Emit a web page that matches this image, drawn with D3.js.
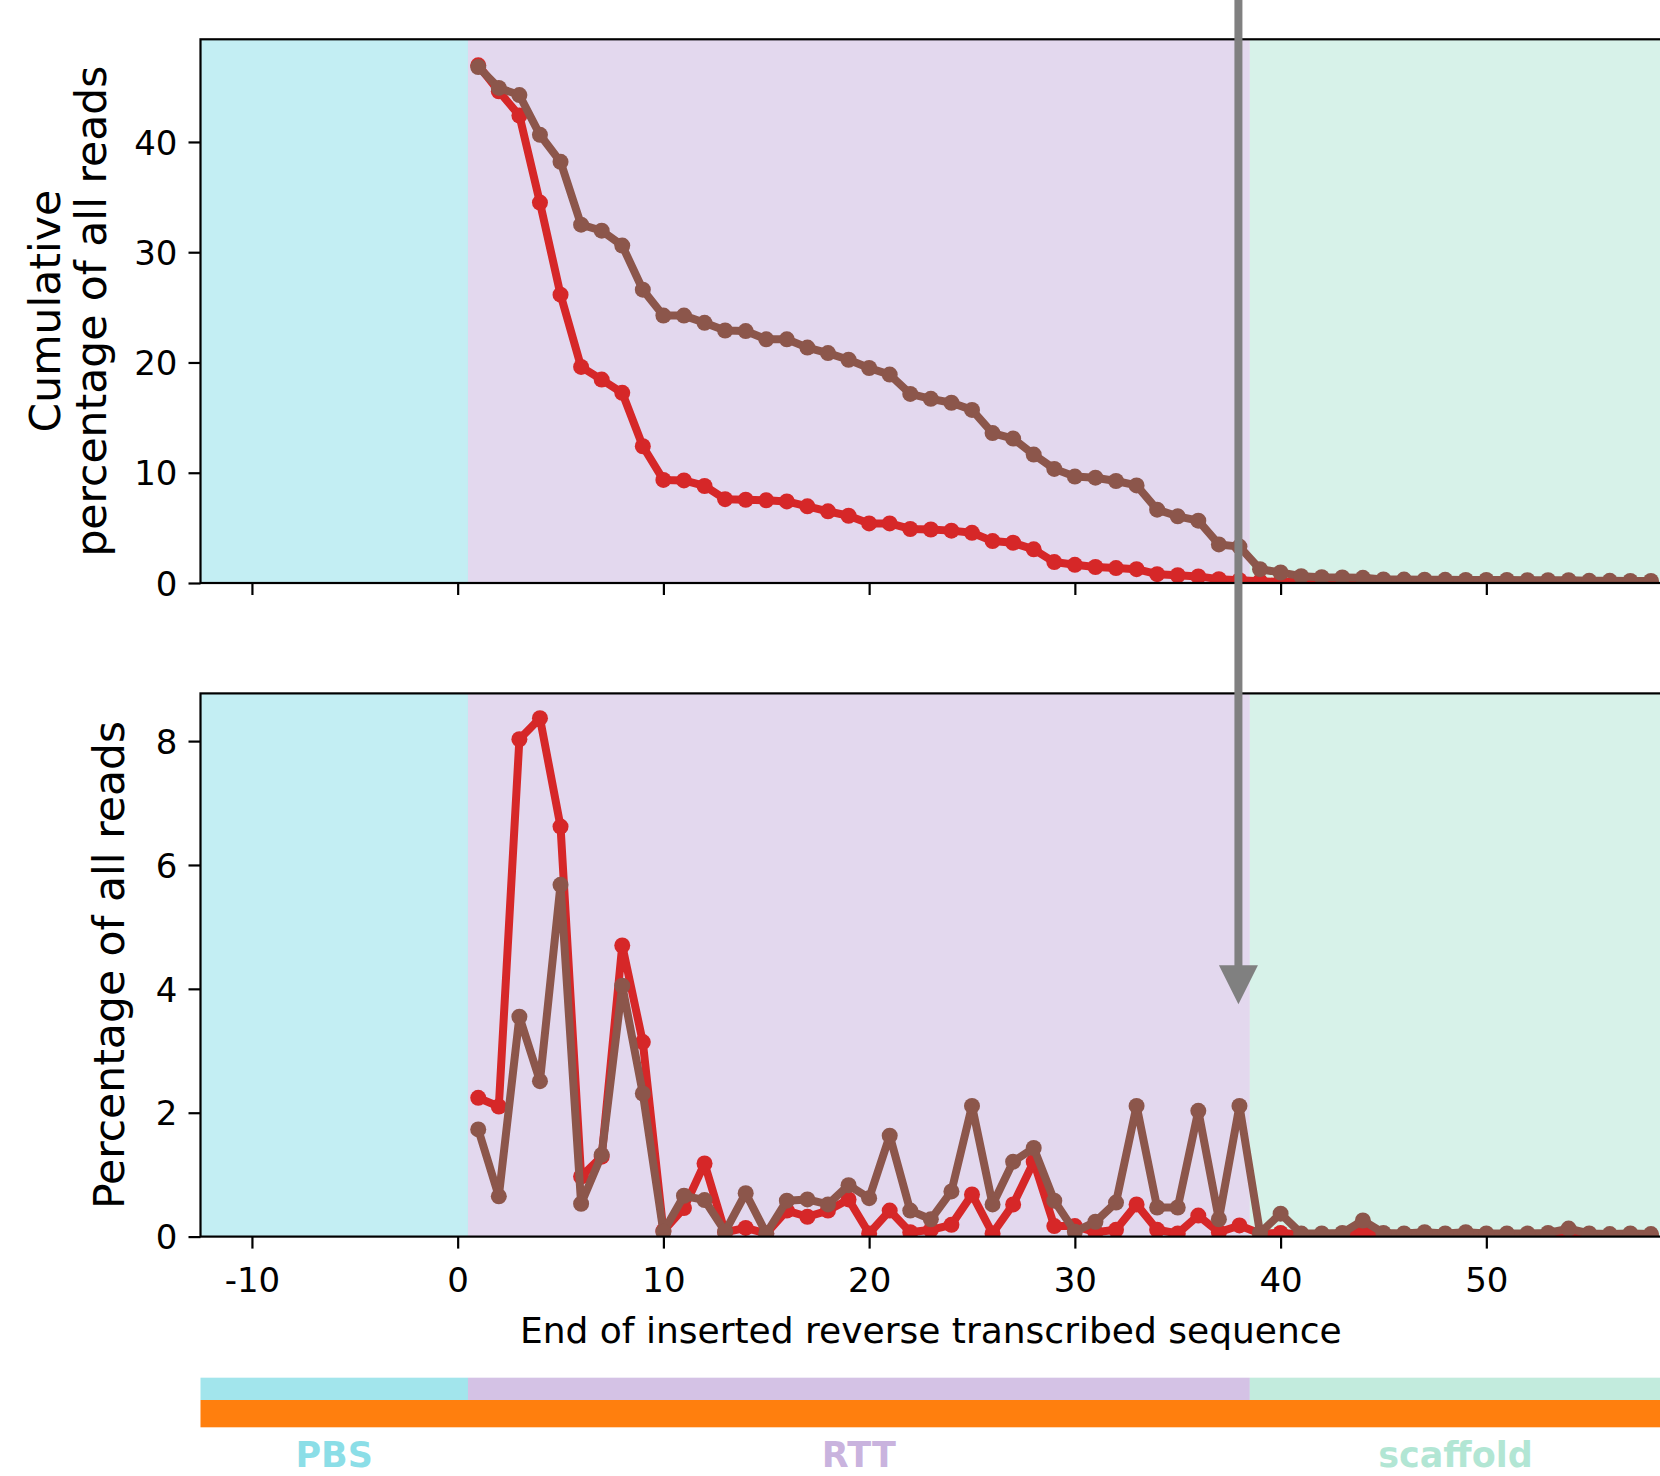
<!DOCTYPE html>
<html>
<head>
<meta charset="utf-8">
<script src="https://cdn.jsdelivr.net/npm/d3@7"></script>
<style>
  body { margin: 0; background: #ffffff; }
  svg { display: block; }
  text { font-family: "DejaVu Sans", sans-serif; }
</style>
</head>
<body>
<svg id="chart" width="1660" height="1476"></svg>
<script>
// ---------------- DATA ----------------
const positions = [1,2,3,4,5,6,7,8,9,10,11,12,13,14,15,16,17,18,19,20,21,22,23,24,25,26,27,28,29,30,
  31,32,33,34,35,36,37,38,39,40,41,42,43,44,45,46,47,48,49,50,51,52,53,54,55,56,57,58];

// cumulative percentage of all reads (top panel)
const cumulativeRed = [46.95,44.6,42.4,34.5,26.15,19.6,18.45,17.25,12.4,9.35,9.3,8.8,7.6,7.55,7.5,7.4,6.95,6.5,6.1,5.4,
  5.4,4.9,4.85,4.75,4.55,3.8,3.65,3.05,1.9,1.65,1.45,1.35,1.25,0.8,0.7,0.6,0.35,0.25,0.15,0.1,
  0.08,0.06,0.05,0.04,0.02,0.02,0.02,0.02,0.02,0.02,0.02,0.02,0.02,0.02,0.01,0.01,0.01,0.01];
const cumulativeBrown = [46.8,44.9,44.25,40.65,38.2,32.5,31.95,30.6,26.6,24.25,24.25,23.6,22.9,22.85,22.1,22.1,21.35,20.85,20.25,19.5,
  18.9,17.15,16.7,16.35,15.7,13.6,13.1,11.65,10.35,9.65,9.55,9.25,8.85,6.65,6.05,5.65,3.5,3.3,1.25,0.95,
  0.62,0.52,0.5,0.47,0.32,0.31,0.3,0.29,0.28,0.27,0.27,0.26,0.26,0.25,0.2,0.2,0.19,0.19];

// percentage of all reads (bottom panel)
const percentRed = [2.24,2.1,8.03,8.37,6.62,0.97,1.29,4.7,3.14,0.09,0.46,1.18,0.07,0.14,0.05,0.42,0.32,0.42,0.6,0.05,
  0.42,0.07,0.11,0.19,0.68,0.05,0.52,1.21,0.17,0.17,0.07,0.11,0.52,0.11,0.05,0.34,0.07,0.18,0.05,0.06,
  0.04,0.02,0.02,0.08,0.02,0.02,0.02,0.02,0.02,0.01,0.01,0.01,0.01,0.02,0.01,0.01,0.01,0.01];
const percentBrown = [1.73,0.65,3.55,2.51,5.68,0.53,1.32,4.05,2.31,0.08,0.66,0.59,0.08,0.7,0.05,0.58,0.6,0.52,0.83,0.62,
  1.63,0.42,0.28,0.73,2.11,0.52,1.21,1.43,0.58,0.08,0.24,0.55,2.11,0.47,0.47,2.03,0.28,2.11,0.06,0.37,
  0.05,0.05,0.06,0.26,0.06,0.05,0.07,0.05,0.07,0.05,0.05,0.05,0.06,0.13,0.05,0.04,0.05,0.04];

const xTickValues = [-10, 0, 10, 20, 30, 40, 50];
const xTickLabels = ["-10", "0", "10", "20", "30", "40", "50"];
const topYTicks = [0, 10, 20, 30, 40];
const bottomYTicks = [0, 2, 4, 6, 8];

const regionNames = ["PBS", "RTT", "scaffold"];
const regionStarts = [-12.5, 0.5, 38.5];
const regionEnds = [0.5, 38.5, 58.5];

const arrowPosition = 37.95;   // x position of the annotation arrow
const arrowTipValue = 3.75;    // bottom-panel value at which the arrow tip ends

const xDomain = [-12.5, 58.5];
const topYDomain = [0, 49.31];
const bottomYDomain = [0, 8.77];

// ---------------- STYLES ----------------
const regionColors = { "PBS": "#17becf", "RTT": "#9467bd", "scaffold": "#66cdaa" };
const redColor = "#d62728";
const brownColor = "#8c564b";
const orangeColor = "#ff7f0e";
const arrowColor = "#808080";
const lineWidth = 8;
const markerRadius = 8;
const frameWidth = 2.2;

// ---------------- LAYOUT ----------------
const svg = d3.select("#chart");
const x = d3.scaleLinear().domain(xDomain).range([200.5, 1661.2]);
const yTop = d3.scaleLinear().domain(topYDomain).range([583, 39.3]);
const yBot = d3.scaleLinear().domain(bottomYDomain).range([1236.6, 693.4]);

const regions = regionNames.map((n, i) => ({ name: n, start: regionStarts[i], end: regionEnds[i] }));
const defs = svg.append("defs");

function drawPanel(id, y, redVals, brownVals, yTicks, showXLabels) {
  const [y0, y1] = y.range();
  const left = x(xDomain[0]), right = x(xDomain[1]);
  defs.append("clipPath").attr("id", id).append("rect")
    .attr("x", left).attr("y", y1).attr("width", right - left).attr("height", y0 - y1);

  const g = svg.append("g");
  const plot = g.append("g").attr("clip-path", `url(#${id})`);
  // backgrounds
  plot.selectAll("rect.bg").data(regions).enter().append("rect")
    .attr("x", d => x(d.start)).attr("width", d => x(d.end) - x(d.start))
    .attr("y", y1).attr("height", y0 - y1)
    .attr("fill", d => regionColors[d.name]).attr("fill-opacity", 0.26);

  const series = [
    { vals: redVals, color: redColor },
    { vals: brownVals, color: brownColor }
  ];
  const line = d3.line().x(d => x(d[0])).y(d => y(d[1]));
  series.forEach(s => {
    const pts = positions.map((p, i) => [p, s.vals[i]]);
    plot.append("path").datum(pts).attr("d", line)
      .attr("fill", "none").attr("stroke", s.color)
      .attr("stroke-width", lineWidth).attr("stroke-linejoin", "round");
    plot.selectAll(null).data(pts).enter().append("circle")
      .attr("cx", d => x(d[0])).attr("cy", d => y(d[1]))
      .attr("r", markerRadius).attr("fill", s.color);
  });

  // frame
  g.append("rect").attr("x", left).attr("y", y1)
    .attr("width", right - left).attr("height", y0 - y1)
    .attr("fill", "none").attr("stroke", "#000").attr("stroke-width", frameWidth);

  // y axis
  const ya = g.append("g").attr("transform", `translate(${left},0)`)
    .call(d3.axisLeft(y).tickValues(yTicks).tickSize(12).tickPadding(11).tickFormat(d3.format("d")));
  ya.select(".domain").remove();
  ya.selectAll(".tick line").attr("stroke", "#000").attr("stroke-width", frameWidth);
  ya.selectAll(".tick text").attr("font-size", 34).attr("fill", "#000")
    .attr("font-family", "DejaVu Sans").attr("dy", "0.36em");

  // x axis
  const xa = g.append("g").attr("transform", `translate(0,${y0})`)
    .call(d3.axisBottom(x).tickValues(xTickValues).tickSize(12).tickPadding(19)
      .tickFormat((d, i) => showXLabels ? xTickLabels[i] : ""));
  xa.select(".domain").remove();
  xa.selectAll(".tick line").attr("stroke", "#000").attr("stroke-width", frameWidth);
  xa.selectAll(".tick text").attr("font-size", 34).attr("fill", "#000")
    .attr("font-family", "DejaVu Sans");
}

drawPanel("clipTop", yTop, cumulativeRed, cumulativeBrown, topYTicks, false);
drawPanel("clipBottom", yBot, percentRed, percentBrown, bottomYTicks, true);

// y labels
const topMid = (yTop.range()[0] + yTop.range()[1]) / 2;
const botMid = (yBot.range()[0] + yBot.range()[1]) / 2;
const ylab1 = svg.append("text").attr("transform", `translate(59.5,${topMid}) rotate(-90)`)
  .attr("text-anchor", "middle").attr("font-size", 42.5).attr("fill", "#000");
ylab1.append("tspan").attr("x", 0).attr("y", 0).text("Cumulative");
ylab1.append("tspan").attr("x", 0).attr("y", 46).text("percentage of all reads");

svg.append("text").attr("transform", `translate(124,${botMid}) rotate(-90)`)
  .attr("text-anchor", "middle").attr("font-size", 42.5).attr("fill", "#000")
  .text("Percentage of all reads");

// x label (centred on the axes)
svg.append("text").attr("x", (x(xDomain[0]) + x(xDomain[1])) / 2).attr("y", 1343)
  .attr("text-anchor", "middle").attr("font-size", 36).attr("fill", "#000")
  .text("End of inserted reverse transcribed sequence");

// bottom annotation bars
svg.selectAll("rect.seg").data(regions).enter().append("rect")
  .attr("x", d => x(d.start)).attr("width", d => x(d.end) - x(d.start))
  .attr("y", 1377.7).attr("height", 22.3)
  .attr("fill", d => regionColors[d.name]).attr("fill-opacity", 0.4);
svg.append("rect").attr("x", x(xDomain[0])).attr("width", x(xDomain[1]) - x(xDomain[0]))
  .attr("y", 1400).attr("height", 27.3).attr("fill", orangeColor);
svg.selectAll("text.reg").data(regions).enter().append("text")
  .attr("x", d => x((d.start + d.end) / 2)).attr("y", 1467)
  .attr("text-anchor", "middle").attr("font-size", 35).attr("font-weight", "bold")
  .attr("fill", d => regionColors[d.name]).attr("fill-opacity", 0.5)
  .text(d => d.name);

// arrow
const ax = x(arrowPosition);
const tipY = yBot(arrowTipValue);
const headLen = 39, headW = 39;
svg.append("rect").attr("x", ax - 4).attr("y", 0).attr("width", 8).attr("height", tipY - headLen + 1)
  .attr("fill", arrowColor);
svg.append("path")
  .attr("d", `M${ax - headW / 2},${tipY - headLen} L${ax + headW / 2},${tipY - headLen} L${ax},${tipY} Z`)
  .attr("fill", arrowColor);
</script>
</body>
</html>
